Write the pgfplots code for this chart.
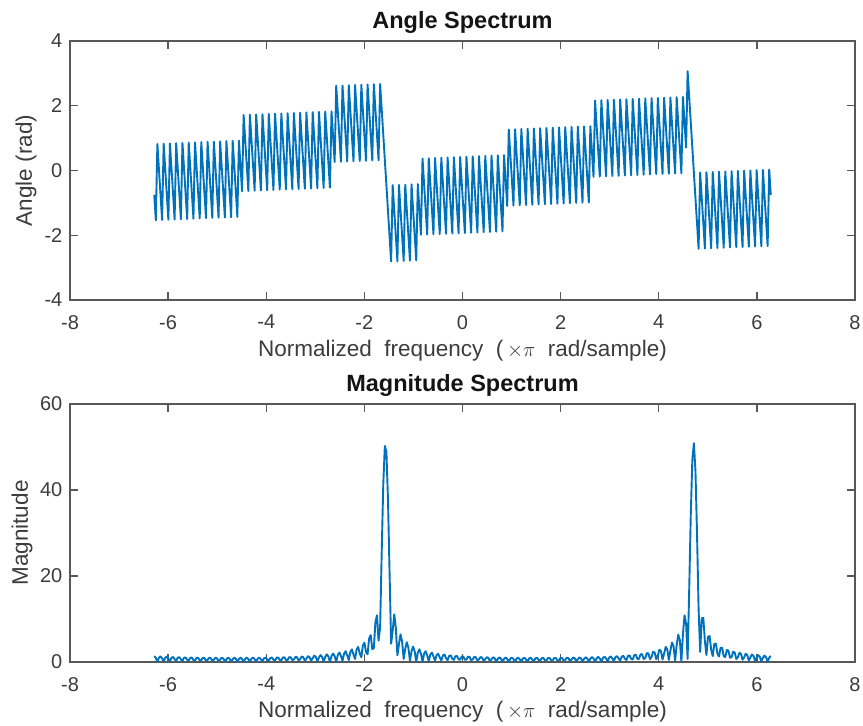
\documentclass[border=0pt]{standalone}
\usepackage{fontspec}
\setmainfont{Liberation Sans}
\usepackage{pgfplots}
\usepackage{pgfplotstable}
\pgfplotsset{compat=1.18}

\definecolor{lineblue}{RGB}{0,114,189}
\definecolor{axisgray}{RGB}{88,88,88}
\definecolor{textgray}{RGB}{60,60,60}
\definecolor{titleblack}{RGB}{20,20,20}

% DTFT of a 50-sample complex tone, sampled on 394 frequencies in [-2pi, 2pi]
% columns: frequency, phase (rad), magnitude
\pgfplotstableread{
x ph mag
-6.283 -0.755 1.38
-6.251 -1.538 0.96
-6.219 0.820 0.04
-6.187 0.037 1.02
-6.155 -0.747 1.30
-6.123 -1.530 0.86
-6.091 0.828 0.11
-6.059 0.045 1.01
-6.027 -0.739 1.23
-5.995 -1.522 0.76
-5.963 0.836 0.17
-5.931 0.053 1.00
-5.899 -0.731 1.17
-5.868 -1.514 0.67
-5.836 0.844 0.23
-5.804 0.061 1.00
-5.772 -0.723 1.11
-5.740 -1.506 0.60
-5.708 0.852 0.28
-5.676 0.069 0.99
-5.644 -0.715 1.06
-5.612 -1.498 0.52
-5.580 0.860 0.34
-5.548 0.077 0.99
-5.516 -0.707 1.02
-5.484 -1.490 0.45
-5.452 0.868 0.38
-5.420 0.085 0.99
-5.388 -0.699 0.97
-5.356 -1.482 0.39
-5.324 0.876 0.43
-5.292 0.093 0.99
-5.260 -0.691 0.93
-5.228 -1.474 0.33
-5.196 0.884 0.47
-5.164 0.101 0.99
-5.132 -0.683 0.89
-5.100 -1.466 0.27
-5.068 0.892 0.52
-5.036 0.109 0.99
-5.004 -0.675 0.85
-4.972 -1.458 0.21
-4.940 0.900 0.56
-4.908 0.117 0.99
-4.876 -0.667 0.82
-4.844 -1.450 0.16
-4.812 0.908 0.60
-4.780 0.125 0.99
-4.748 -0.659 0.78
-4.716 -1.442 0.10
-4.684 0.916 0.64
-4.652 0.133 1.00
-4.620 -0.651 0.75
-4.589 -1.434 0.04
-4.557 0.924 0.69
-4.525 0.141 1.00
-4.493 -0.643 0.71
-4.461 1.715 0.01
-4.429 0.932 0.73
-4.397 0.148 1.01
-4.365 -0.635 0.68
-4.333 1.723 0.07
-4.301 0.940 0.78
-4.269 0.156 1.01
-4.237 -0.627 0.65
-4.205 1.731 0.13
-4.173 0.948 0.82
-4.141 0.164 1.02
-4.109 -0.619 0.61
-4.077 1.739 0.19
-4.045 0.956 0.88
-4.013 0.172 1.03
-3.981 -0.611 0.58
-3.949 1.747 0.25
-3.917 0.964 0.93
-3.885 0.180 1.04
-3.853 -0.603 0.54
-3.821 1.755 0.32
-3.789 0.972 0.99
-3.757 0.188 1.06
-3.725 -0.595 0.50
-3.693 1.763 0.39
-3.661 0.980 1.05
-3.629 0.196 1.07
-3.597 -0.587 0.46
-3.565 1.771 0.47
-3.533 0.988 1.12
-3.501 0.204 1.09
-3.469 -0.579 0.42
-3.437 1.779 0.56
-3.405 0.996 1.19
-3.373 0.212 1.11
-3.341 -0.571 0.37
-3.310 1.787 0.65
-3.278 1.004 1.27
-3.246 0.220 1.13
-3.214 -0.563 0.32
-3.182 1.795 0.76
-3.150 1.012 1.37
-3.118 0.228 1.15
-3.086 -0.555 0.26
-3.054 1.803 0.88
-3.022 1.020 1.48
-2.990 0.236 1.18
-2.958 -0.547 0.19
-2.926 1.811 1.02
-2.894 1.028 1.60
-2.862 0.244 1.22
-2.830 -0.539 0.10
-2.798 1.819 1.17
-2.766 1.036 1.78
-2.734 0.252 1.31
-2.702 -0.531 0.01
-2.670 1.827 1.37
-2.638 1.044 1.97
-2.606 0.260 1.37
-2.574 2.618 0.11
-2.542 1.835 1.61
-2.510 1.051 2.20
-2.478 0.268 1.45
-2.446 2.626 0.25
-2.414 1.843 1.93
-2.382 1.059 2.51
-2.350 0.276 1.56
-2.318 2.634 0.45
-2.286 1.851 2.34
-2.254 1.067 2.93
-2.222 0.284 1.71
-2.190 2.642 0.72
-2.158 1.859 2.94
-2.126 1.075 3.53
-2.094 0.292 1.93
-2.062 2.650 1.12
-2.031 1.867 3.86
-1.999 1.083 4.50
-1.967 0.300 2.29
-1.935 2.658 1.80
-1.903 1.875 5.48
-1.871 1.091 6.26
-1.839 0.308 3.00
-1.807 2.666 3.21
-1.775 1.883 9.30
-1.743 1.099 10.87
-1.711 0.316 4.98
-1.679 2.674 8.11
-1.647 1.891 25.44
-1.615 1.107 41.34
-1.583 0.324 50.25
-1.551 -0.460 48.91
-1.519 -1.243 37.81
-1.487 -2.026 21.00
-1.455 -2.810 4.26
-1.423 -0.452 7.28
-1.391 -1.235 11.09
-1.359 -2.019 7.89
-1.327 -2.802 1.54
-1.295 -0.444 4.17
-1.263 -1.227 6.43
-1.231 -2.011 4.74
-1.199 -2.794 0.71
-1.167 -0.436 3.09
-1.135 -1.219 4.60
-1.103 -2.003 3.31
-1.071 -2.786 0.31
-1.039 -0.428 2.52
-1.007 -1.211 3.59
-0.975 -1.995 2.49
-0.943 -2.778 0.06
-0.911 -0.420 2.17
-0.879 -1.203 2.95
-0.847 -1.987 1.95
-0.815 0.371 0.10
-0.783 -0.412 1.93
-0.752 -1.196 2.51
-0.720 -1.979 1.57
-0.688 0.379 0.22
-0.656 -0.404 1.76
-0.624 -1.188 2.18
-0.592 -1.971 1.29
-0.560 0.387 0.31
-0.528 -0.396 1.63
-0.496 -1.180 1.92
-0.464 -1.963 1.07
-0.432 0.395 0.37
-0.400 -0.388 1.52
-0.368 -1.172 1.72
-0.336 -1.955 0.89
-0.304 0.403 0.43
-0.272 -0.380 1.40
-0.240 -1.164 1.54
-0.208 -1.947 0.75
-0.176 0.411 0.50
-0.144 -0.372 1.34
-0.112 -1.156 1.40
-0.080 -1.939 0.62
-0.048 0.419 0.54
-0.016 -0.364 1.28
0.016 -1.148 1.28
0.048 -1.931 0.51
0.080 0.427 0.58
0.112 -0.356 1.24
0.144 -1.140 1.18
0.176 -1.923 0.41
0.208 0.435 0.61
0.240 -0.348 1.20
0.272 -1.132 1.09
0.304 -1.915 0.32
0.336 0.443 0.64
0.368 -0.340 1.16
0.400 -1.124 1.01
0.432 -1.907 0.24
0.464 0.451 0.67
0.496 -0.332 1.13
0.528 -1.116 0.93
0.559 -1.899 0.17
0.591 0.459 0.70
0.623 -0.324 1.10
0.655 -1.108 0.86
0.687 -1.891 0.10
0.719 0.467 0.72
0.751 -0.316 1.08
0.783 -1.100 0.80
0.815 -1.883 0.04
0.847 0.475 0.75
0.879 -0.308 1.05
0.911 -1.092 0.74
0.943 1.267 0.02
0.975 0.484 0.77
1.007 -0.300 1.03
1.039 -1.083 0.68
1.071 1.275 0.08
1.103 0.492 0.79
1.135 -0.292 1.01
1.167 -1.075 0.63
1.199 1.283 0.13
1.231 0.500 0.82
1.263 -0.284 0.99
1.295 -1.067 0.58
1.327 1.291 0.19
1.359 0.508 0.84
1.391 -0.276 0.98
1.423 -1.059 0.53
1.455 1.299 0.24
1.487 0.516 0.87
1.519 -0.268 0.96
1.551 -1.051 0.48
1.583 1.307 0.30
1.615 0.524 0.89
1.647 -0.260 0.95
1.679 -1.043 0.43
1.711 1.315 0.35
1.743 0.532 0.92
1.775 -0.252 0.93
1.807 -1.035 0.38
1.839 1.323 0.40
1.871 0.540 0.94
1.903 -0.244 0.92
1.935 -1.027 0.33
1.967 1.331 0.46
1.999 0.548 0.97
2.030 -0.236 0.91
2.062 -1.019 0.28
2.094 1.339 0.52
2.126 0.556 1.00
2.158 -0.228 0.90
2.190 -1.011 0.23
2.222 1.347 0.58
2.254 0.564 1.03
2.286 -0.220 0.89
2.318 -1.003 0.18
2.350 1.355 0.64
2.382 0.572 1.07
2.414 -0.212 0.87
2.446 -0.995 0.12
2.478 1.363 0.71
2.510 0.580 1.10
2.542 -0.204 0.86
2.574 -0.987 0.06
2.606 1.371 0.78
2.638 0.588 1.15
2.670 -0.196 0.85
2.702 2.162 0.00
2.734 1.379 0.86
2.766 0.595 1.19
2.798 -0.188 0.84
2.830 2.170 0.07
2.862 1.387 0.94
2.894 0.603 1.24
2.926 -0.180 0.83
2.958 2.178 0.15
2.990 1.395 1.04
3.022 0.611 1.30
3.054 -0.172 0.81
3.086 2.186 0.24
3.118 1.403 1.15
3.150 0.619 1.36
3.182 -0.164 0.80
3.214 2.194 0.33
3.246 1.411 1.27
3.278 0.627 1.43
3.309 -0.156 0.79
3.341 2.202 0.45
3.373 1.419 1.41
3.405 0.635 1.52
3.437 -0.148 0.75
3.469 2.210 0.57
3.501 1.427 1.60
3.533 0.643 1.68
3.565 -0.140 0.72
3.597 2.218 0.73
3.629 1.435 1.80
3.661 0.651 1.82
3.693 -0.132 0.70
3.725 2.226 0.92
3.757 1.443 2.07
3.789 0.659 1.99
3.821 -0.124 0.67
3.853 2.234 1.17
3.885 1.451 2.40
3.917 0.667 2.22
3.949 -0.116 0.63
3.981 2.242 1.50
4.013 1.459 2.85
4.045 0.675 2.53
4.077 -0.108 0.57
4.109 2.250 1.95
4.141 1.467 3.50
4.173 0.683 2.99
4.205 -0.100 0.49
4.237 2.258 2.65
4.269 1.475 4.52
4.301 0.691 3.73
4.333 -0.092 0.36
4.365 2.266 3.86
4.397 1.483 6.35
4.429 0.699 5.13
4.461 -0.084 0.10
4.493 2.274 6.45
4.525 1.491 10.87
4.557 0.707 8.98
4.588 3.065 0.72
4.620 2.282 16.55
4.652 1.499 33.93
4.684 0.715 46.95
4.716 -0.068 50.90
4.748 -0.852 44.39
4.780 -1.635 29.78
4.812 -2.419 12.23
4.844 -0.061 2.35
4.876 -0.844 10.17
4.908 -1.628 10.26
4.940 -2.411 4.88
4.972 -0.053 1.62
5.004 -0.836 5.84
5.036 -1.620 6.03
5.068 -2.403 2.87
5.100 -0.045 1.38
5.132 -0.828 4.21
5.164 -1.612 4.27
5.196 -2.395 1.91
5.228 -0.037 1.25
5.260 -0.820 3.33
5.292 -1.604 3.29
5.324 -2.387 1.35
5.356 -0.029 1.17
5.388 -0.812 2.79
5.420 -1.596 2.65
5.452 -2.379 0.99
5.484 -0.021 1.12
5.516 -0.804 2.41
5.548 -1.588 2.20
5.580 -2.371 0.72
5.612 -0.013 1.09
5.644 -0.796 2.14
5.676 -1.580 1.87
5.708 -2.363 0.52
5.740 -0.005 1.06
5.772 -0.788 1.93
5.804 -1.572 1.62
5.836 -2.355 0.36
5.867 0.003 1.04
5.899 -0.780 1.76
5.931 -1.564 1.41
5.963 -2.347 0.24
5.995 0.011 0.99
6.027 -0.772 1.61
6.059 -1.556 1.25
6.091 -2.339 0.13
6.123 0.019 0.98
6.155 -0.764 1.50
6.187 -1.548 1.10
6.219 -2.331 0.04
6.251 0.027 0.99
6.283 -0.756 1.42
}\spectrum

\pgfplotsset{
  specaxis/.style={
    scale only axis,
    width=785pt,
    xmin=-8, xmax=8,
    xtick={-8,-6,...,8},
    clip=false,
    /pgf/number format/assume math mode=true,
    axis line style={draw=axisgray, line width=1.3pt},
    every tick/.style={draw=axisgray, line width=1.3pt},
    major tick length=8pt,
    tick align=inside,
    tick label style={font=\fontsize{20}{24}\selectfont, text=textgray},
    xticklabel style={anchor=north, inner sep=0pt, yshift=-15pt},
    yticklabel style={anchor=east, inner sep=0pt, xshift=-7.5pt},
    label style={font=\fontsize{22.5}{27}\selectfont, text=textgray},
    title style={font=\bfseries\fontsize{23.5}{28}\selectfont, text=titleblack,
      at={(axis description cs:0.5,1)}, anchor=center, yshift=13pt},
    xlabel={Normalized\ \ frequency\ \ (\,$\times\pi$\ \ rad/sample)},
  }
}

\begin{document}
\begin{tikzpicture}
\path[use as bounding box] (0pt,0pt) rectangle (863pt,726pt);

% phase of the spectrum
\begin{axis}[specaxis,
  at={(70pt,426pt)}, anchor=south west,
  height=259pt,
  ymin=-4, ymax=4, ytick={-4,-2,...,4},
  title={Angle Spectrum},
  ylabel={Angle (rad)},
  xlabel style={at={(axis description cs:0.5,0)}, anchor=center, yshift=-51pt},
  ylabel style={at={(axis description cs:-0.0561,0.5)}, anchor=center},
]
\addplot[lineblue, line width=1.9pt, line join=round, no markers] table[x=x, y=ph] {\spectrum};
\end{axis}

% magnitude of the spectrum
\begin{axis}[specaxis,
  at={(70pt,64pt)}, anchor=south west,
  height=258pt,
  ymin=0, ymax=60, ytick={0,20,40,60},
  title={Magnitude Spectrum},
  ylabel={Magnitude},
  xlabel style={at={(axis description cs:0.5,0)}, anchor=center, yshift=-50pt},
  ylabel style={at={(axis description cs:-0.0611,0.5)}, anchor=center},
]
\addplot[lineblue, line width=1.9pt, line join=round, no markers] table[x=x, y=mag] {\spectrum};
\end{axis}
\end{tikzpicture}
\end{document}
